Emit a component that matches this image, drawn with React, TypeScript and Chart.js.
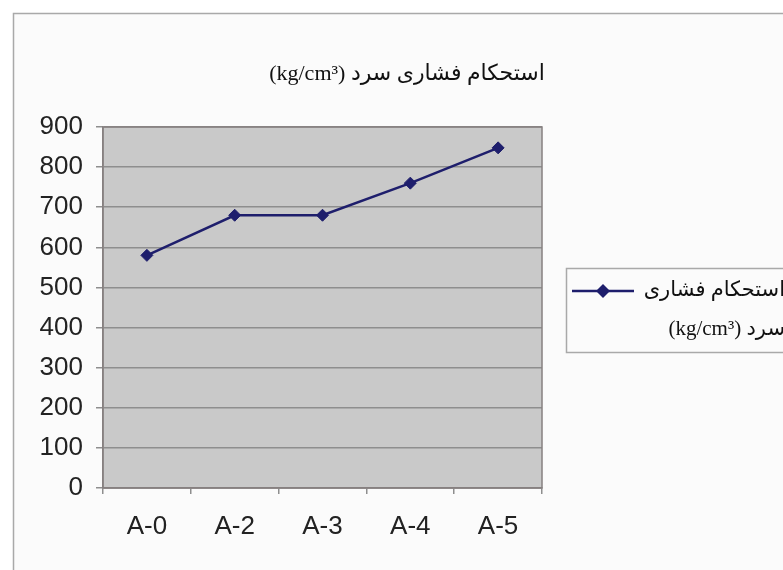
import React, { useEffect, useRef } from 'react';
import { Chart, registerables } from 'chart.js';

Chart.register(...registerables);

const categories: string[] = ['A-0', 'A-2', 'A-3', 'A-4', 'A-5'];
const seriesValues: number[] = [580, 680, 680, 760, 848];
const yMin = 0;
const yMax = 900;
const yStep = 100;
const chartTitle = 'استحکام فشاری سرد (kg/cm³)';
const seriesName = 'استحکام فشاری سرد (kg/cm³)';
const legendLines: string[] = ['استحکام فشاری', 'سرد (kg/cm³)'];

const LINE_COLOR = '#1e1e6c';
const FRAME_BG = '#fbfbfb';
const PLOT_BG = '#c9c9c9';
const GRID = '#8e8e8e';
const TEXT_FONT = '"Liberation Serif", "DejaVu Sans", serif';

const decorPlugin = {
  id: 'decor',
  beforeDraw(chart: any) {
    const { ctx, width, height, chartArea } = chart;
    ctx.save();
    ctx.fillStyle = '#ffffff';
    ctx.fillRect(0, 0, width, height);
    ctx.fillStyle = FRAME_BG;
    ctx.fillRect(13, 13, width, height);
    ctx.strokeStyle = '#a9a9a9';
    ctx.lineWidth = 1.5;
    ctx.beginPath();
    ctx.moveTo(13.5, height + 5);
    ctx.lineTo(13.5, 13.5);
    ctx.lineTo(width + 5, 13.5);
    ctx.stroke();
    ctx.fillStyle = PLOT_BG;
    ctx.fillRect(chartArea.left, chartArea.top, chartArea.right - chartArea.left, chartArea.bottom - chartArea.top);
    ctx.restore();
  },
  beforeDatasetsDraw(chart: any) {
    const { ctx, chartArea } = chart;
    ctx.save();
    ctx.strokeStyle = '#868080';
    ctx.lineWidth = 1.5;
    ctx.strokeRect(chartArea.left, chartArea.top, chartArea.right - chartArea.left, chartArea.bottom - chartArea.top);
    ctx.restore();
  },
  afterDraw(chart: any) {
    const { ctx } = chart;
    ctx.save();
    // title
    ctx.direction = 'rtl';
    ctx.fillStyle = '#111111';
    ctx.font = `22px ${TEXT_FONT}`;
    ctx.textAlign = 'center';
    ctx.textBaseline = 'middle';
    ctx.fillText(chartTitle, 407, 74);
    // legend box
    const lx = 566.5;
    const ly = 268.5;
    ctx.fillStyle = FRAME_BG;
    ctx.fillRect(lx, ly, 300, 84);
    ctx.strokeStyle = '#a9a9a9';
    ctx.lineWidth = 1.5;
    ctx.strokeRect(lx, ly, 300, 84);
    // legend sample
    const sy = 291;
    ctx.strokeStyle = LINE_COLOR;
    ctx.lineWidth = 2.5;
    ctx.beginPath();
    ctx.moveTo(572, sy);
    ctx.lineTo(634, sy);
    ctx.stroke();
    ctx.fillStyle = LINE_COLOR;
    ctx.beginPath();
    ctx.moveTo(603, sy - 7);
    ctx.lineTo(610, sy);
    ctx.lineTo(603, sy + 7);
    ctx.lineTo(596, sy);
    ctx.closePath();
    ctx.fill();
    // legend text
    ctx.fillStyle = '#111111';
    ctx.font = `21px ${TEXT_FONT}`;
    ctx.textBaseline = 'middle';
    ctx.textAlign = 'right';
    legendLines.forEach((t, i) => ctx.fillText(t, 785, 290 + i * 39));
    ctx.restore();
  },
};

export default function App() {
  const ref = useRef<HTMLCanvasElement | null>(null);
  useEffect(() => {
    if (!ref.current) return;
    const chart = new Chart(ref.current, {
      type: 'line',
      data: {
        labels: categories,
        datasets: [
          {
            label: seriesName,
            data: seriesValues,
            borderColor: LINE_COLOR,
            backgroundColor: LINE_COLOR,
            borderWidth: 2.5,
            pointStyle: 'rectRot',
            pointRadius: 6,
            pointBackgroundColor: LINE_COLOR,
            pointBorderColor: LINE_COLOR,
            pointBorderWidth: 1,
            tension: 0,
            fill: false,
          },
        ],
      },
      options: {
        animation: false,
        responsive: false,
        maintainAspectRatio: false,
        layout: { padding: { top: 127, right: 241, left: 0, bottom: 0 } },
        plugins: {
          legend: { display: false },
          title: { display: false },
          tooltip: { enabled: false },
        },
        scales: {
          x: {
            type: 'category',
            offset: true,
            grid: {
              offset: true,
              drawOnChartArea: false,
              drawTicks: true,
              tickLength: 6,
              color: GRID,
              lineWidth: 1.5,
            },
            border: { display: true, color: '#868080', width: 1.5 },
            ticks: {
              color: '#222222',
              padding: 17,
              font: { family: '"Liberation Sans", Arial, sans-serif', size: 26 },
              maxRotation: 0,
            },
            afterFit(scale: any) {
              scale.height = 82;
            },
          },
          y: {
            min: yMin,
            max: yMax,
            ticks: {
              stepSize: yStep,
              color: '#222222',
              padding: 13,
              font: { family: '"Liberation Sans", Arial, sans-serif', size: 26 },
            },
            grid: {
              color: GRID,
              lineWidth: 1.5,
              drawTicks: true,
              tickLength: 7,
            },
            border: { display: true, color: '#868080', width: 1.5 },
            afterFit(scale: any) {
              scale.width = 103;
            },
          },
        },
      },
      plugins: [decorPlugin],
    });
    return () => chart.destroy();
  }, []);
  return (
    <div style={{ position: 'fixed', left: 0, top: 0, width: 783, height: 570 }}>
      <canvas ref={ref} width={783} height={570} style={{ width: 783, height: 570, display: 'block' }} />
    </div>
  );
}
